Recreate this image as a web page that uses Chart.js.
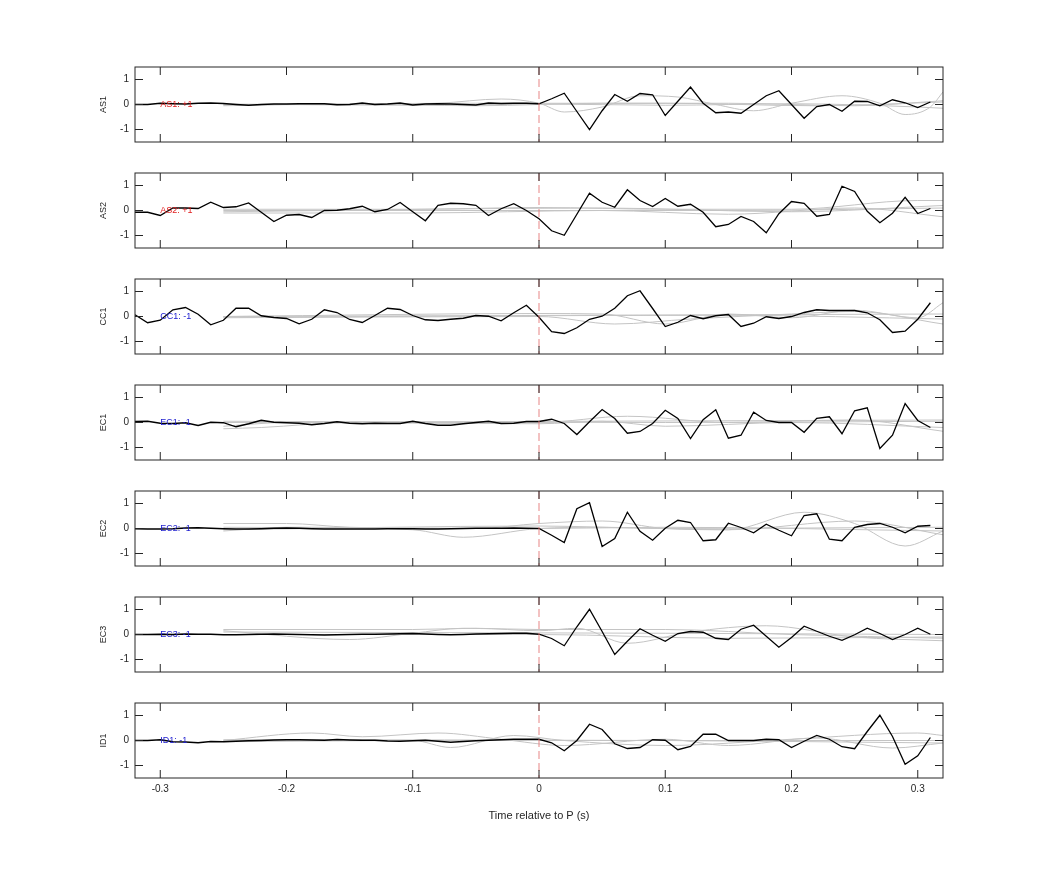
<!DOCTYPE html>
<html><head><meta charset="utf-8">
<script src="https://cdn.jsdelivr.net/npm/chart.js@4"></script>
<style>body{margin:0;background:#fff;width:1042px;height:875px;position:relative;overflow:hidden}canvas{position:absolute;left:0;top:0}</style>
</head><body>
<script>
const channels=['AS1','AS2','CC1','EC1','EC2','EC3','ID1'];
const labels=['AS1: +1','AS2: +1','CC1: -1','EC1: -1','EC2: -1','EC3: -1','ID1: -1'];
const labelColors=['#e02020','#e02020','#2020d0','#2020d0','#2020d0','#2020d0','#2020d0'];
const xTicks=[-0.3,-0.2,-0.1,0,0.1,0.2,0.3];
const yTicks=[-1,0,1];
const times=[];for(let i=-32;i<=31;i++)times.push(i/100);
const AS1=[0,0,0.05,0.03,0.02,0.05,0.06,0.04,0,-0.03,0,0.02,0.02,0.03,0.03,0.03,-0.01,0,0.06,0,0.02,0.06,-0.02,0.02,0.03,0.02,0,-0.02,0.06,0.04,0.05,0.05,
0.03,0.23,0.45,-0.28,-1.0,-0.25,0.4,0.13,0.44,0.39,-0.44,0.13,0.7,0.05,-0.33,-0.3,-0.35,0,0.35,0.55,0,-0.55,-0.08,0,-0.27,0.13,0.12,-0.05,0.19,0.07,-0.12,0.1];
const AS2=[-0.07,-0.07,-0.2,0.1,0.1,0.08,0.33,0.12,0.15,0.3,-0.07,-0.44,-0.19,-0.16,-0.28,0,0.01,0.07,0.17,-0.05,0.04,0.32,-0.05,-0.41,0.21,0.29,0.27,0.21,-0.2,0.07,0.27,0,
-0.33,-0.81,-0.99,-0.15,0.69,0.33,0.13,0.83,0.4,0.16,0.48,0.17,0.25,-0.07,-0.65,-0.56,-0.24,-0.44,-0.89,-0.13,0.36,0.29,-0.23,-0.16,0.97,0.76,-0.03,-0.49,-0.11,0.53,-0.12,0.08];
const CC1=[0.07,-0.25,-0.15,0.27,0.36,0.09,-0.33,-0.15,0.33,0.33,0.03,-0.04,-0.08,-0.29,-0.11,0.27,0.16,-0.12,-0.24,0.04,0.33,0.28,0.04,-0.13,-0.16,-0.11,-0.07,0.04,0.01,-0.17,0.15,0.45,
-0.03,-0.61,-0.68,-0.45,-0.11,0.01,0.33,0.83,1.03,0.32,-0.4,-0.23,0.04,-0.09,0.03,0.08,-0.4,-0.27,-0.01,-0.08,0,0.16,0.27,0.24,0.24,0.24,0.15,-0.13,-0.64,-0.59,-0.11,0.55];
const EC1=[0.04,0.05,-0.03,-0.04,-0.01,-0.12,0.01,-0.01,-0.17,-0.05,0.09,0.01,-0.01,-0.03,-0.09,-0.04,0.03,-0.03,-0.05,-0.03,-0.04,-0.04,0.05,-0.04,-0.11,-0.11,-0.05,0,0.05,-0.04,-0.03,0.04,
0.04,0.13,-0.04,-0.48,0.03,0.52,0.16,-0.43,-0.36,-0.04,0.49,0.16,-0.64,0.11,0.51,-0.63,-0.51,0.41,0.08,0,0,-0.39,0.17,0.23,-0.45,0.47,0.59,-1.04,-0.51,0.76,0.08,-0.2];
const EC2=[-0.01,-0.02,-0.02,-0.01,0.02,0.03,0.01,-0.01,-0.02,-0.02,-0.01,0.01,0.02,0.01,-0.01,-0.02,-0.02,-0.02,-0.02,-0.02,-0.01,-0.01,-0.01,-0.02,-0.02,-0.01,0,0.01,0.01,0.01,0.02,0.01,
0,-0.27,-0.56,0.79,1.03,-0.72,-0.4,0.65,-0.11,-0.47,0.01,0.33,0.24,-0.49,-0.45,0.21,0.04,-0.17,0.17,-0.07,-0.29,0.52,0.59,-0.43,-0.49,0.05,0.16,0.2,0.05,-0.17,0.09,0.12];
const EC3=[0,0,0.01,0,0.02,0.01,0.01,-0.01,-0.01,0,0.01,0.02,0.01,0,-0.01,-0.02,-0.01,0,0.01,0.01,0.02,0.03,0.04,0.02,0,-0.01,0,0.02,0.03,0.04,0.05,0.05,
0.01,-0.16,-0.45,0.31,1.01,0.12,-0.8,-0.27,0.23,-0.03,-0.27,0.04,0.12,0.09,-0.15,-0.2,0.21,0.37,-0.07,-0.51,-0.12,0.33,0.13,-0.07,-0.23,-0.01,0.25,0.04,-0.2,0,0.25,0.01];
const ID1=[0,0,0.03,-0.05,-0.06,-0.09,-0.04,-0.05,-0.03,-0.01,0,0.02,0.03,0.03,0.02,0.01,0.04,0.02,0.01,0.01,-0.02,-0.03,-0.01,0.01,-0.03,-0.07,-0.04,-0.01,0.01,0.03,0.05,0.05,
0.05,-0.09,-0.41,0,0.65,0.44,-0.13,-0.32,-0.28,0.03,0.01,-0.37,-0.24,0.25,0.25,0,0,0,0.05,0.03,-0.28,-0.03,0.2,0.05,-0.25,-0.33,0.36,1.01,0.16,-0.95,-0.61,0.12];
const black=[AS1,AS2,CC1,EC1,EC2,EC3,ID1];
const gray=[
[[[-0.25,0],[-0.15,0],[-0.08,0.05],[-0.03,0.22],[0,0.05],[0.02,-0.3],[0.05,-0.1],[0.08,0.35],[0.11,0.3],[0.14,0],[0.17,-0.25],[0.2,0.05],[0.24,0.35],[0.27,0.05],[0.29,-0.4],[0.31,-0.1],[0.32,0.5]],
 [[-0.25,-0.05],[-0.15,0.02],[-0.05,-0.05],[0.05,0.05],[0.15,0.05],[0.25,-0.05],[0.32,0.15]],
 [[-0.25,0.02],[-0.1,-0.03],[0,0.02],[0.1,-0.03],[0.2,0.03],[0.3,-0.1],[0.32,-0.15]],
 [[-0.25,-0.02],[-0.05,0.05],[0.1,0.05],[0.22,-0.05],[0.32,0.1]]],
[[[-0.25,0.05],[-0.1,0.05],[0,0.12],[0.1,0.05],[0.2,0.05],[0.3,0.4],[0.32,0.4]],
 [[-0.25,-0.1],[-0.1,-0.1],[0.05,0],[0.15,-0.15],[0.25,0.1],[0.32,-0.25]],
 [[-0.25,0],[0,0],[0.15,0],[0.32,0.1]],
 [[-0.25,-0.05],[0.05,0.1],[0.2,-0.05],[0.32,0.2]]],
[[[-0.25,0],[0,0.12],[0.05,0.1],[0.1,-0.3],[0.15,0.1],[0.2,-0.05],[0.25,0.25],[0.3,-0.05],[0.32,0.55]],
 [[-0.25,-0.05],[0,0],[0.06,-0.3],[0.12,-0.1],[0.2,0.1],[0.25,0.2],[0.32,-0.3]],
 [[-0.25,0],[0.32,0.1]],
 [[-0.25,-0.03],[0.15,0.05],[0.32,-0.1]]],
[[[-0.25,-0.25],[-0.22,-0.2],[-0.15,0],[0,0],[0.07,0.25],[0.15,0],[0.25,0.1],[0.32,-0.35]],
 [[-0.25,-0.15],[-0.2,0],[0,-0.05],[0.05,0.05],[0.1,-0.15],[0.2,0],[0.32,-0.2]],
 [[-0.25,0],[0.32,0.1]],
 [[-0.25,0.05],[0.1,0],[0.32,0.05]]],
[[[-0.25,0.2],[-0.2,0.2],[-0.15,0.05],[-0.05,0],[0,0.2],[0.05,0.3],[0.1,0],[0.15,-0.05],[0.21,0.65],[0.25,0.2],[0.29,-0.7],[0.32,-0.1]],
 [[-0.25,-0.1],[-0.2,0.05],[-0.1,-0.05],[-0.06,-0.35],[0,0],[0.05,0.05],[0.15,-0.05],[0.25,0.3],[0.32,-0.25]],
 [[-0.25,0.05],[0,0],[0.1,0.05],[0.32,-0.1]],
 [[-0.25,-0.05],[0,0.1],[0.1,0],[0.32,0.05]]],
[[[-0.25,0.2],[-0.1,0.2],[-0.05,0.25],[0,0.15],[0.03,0.25],[0.07,-0.35],[0.12,0.1],[0.18,0.35],[0.25,-0.1],[0.32,-0.25]],
 [[-0.25,0.15],[-0.15,-0.2],[-0.1,0.05],[-0.06,0.25],[0,0.2],[0.1,0.2],[0.2,0],[0.32,-0.15]],
 [[-0.25,0],[0,0],[0.15,-0.15],[0.32,-0.1]],
 [[-0.25,0.1],[0.1,0.05],[0.32,0]]],
[[[-0.25,0],[-0.18,0.3],[-0.14,0.15],[-0.08,0.3],[-0.03,0.05],[0.02,-0.2],[0.1,0.05],[0.15,-0.2],[0.22,0.1],[0.28,-0.3],[0.32,-0.1]],
 [[-0.25,-0.05],[-0.1,0],[-0.07,-0.28],[-0.02,0.2],[0.02,0],[0.1,-0.2],[0.2,0.05],[0.3,0.3],[0.32,0.2]],
 [[-0.25,0],[0.32,0]],
 [[-0.25,0.03],[0.1,0],[0.32,-0.1]]]
];
const FONT='"Liberation Sans", Arial, sans-serif';
const decor={id:'decor',
 afterDraw(c,a,o){
  const ctx=c.ctx,x=c.scales.x,y=c.scales.y,ca=c.chartArea;
  ctx.save();
  ctx.strokeStyle='rgba(228,120,120,0.9)';ctx.lineWidth=1;ctx.setLineDash([8,4]);
  const x0=x.getPixelForValue(0);
  ctx.beginPath();ctx.moveTo(x0,ca.top);ctx.lineTo(x0,ca.bottom);ctx.stroke();
  ctx.setLineDash([]);
  ctx.strokeStyle='#262626';ctx.lineWidth=1;
  ctx.strokeRect(ca.left,ca.top,ca.right-ca.left,ca.bottom-ca.top);
  ctx.beginPath();
  xTicks.forEach(v=>{const p=x.getPixelForValue(v);ctx.moveTo(p,ca.bottom);ctx.lineTo(p,ca.bottom-8);ctx.moveTo(p,ca.top);ctx.lineTo(p,ca.top+8);});
  yTicks.forEach(v=>{const p=y.getPixelForValue(v);ctx.moveTo(ca.left,p);ctx.lineTo(ca.left+8,p);ctx.moveTo(ca.right,p);ctx.lineTo(ca.right-8,p);});
  ctx.stroke();
  ctx.fillStyle=o.color;ctx.font='9px '+FONT;ctx.textBaseline='middle';ctx.textAlign='left';
  ctx.fillText(o.text,x.getPixelForValue(-0.3),y.getPixelForValue(0));
  ctx.restore();
 }};
channels.forEach((ch,i)=>{
 const cv=document.createElement('canvas');cv.width=1042;cv.height=875;cv.style.width='1042px';cv.style.height='875px';
 document.body.appendChild(cv);
 const last=i===channels.length-1;
 const top=67+106*i, bottom=top+75, hx=last?45:0;
 const ds=gray[i].map(g=>({data:g.map(p=>({x:p[0],y:p[1]})),borderColor:'#c4c4c4',borderWidth:1,pointRadius:0,tension:0.4,cubicInterpolationMode:'monotone',order:2}));
 ds.push({data:times.map((t,k)=>({x:t,y:black[i][k]})),borderColor:'#000',borderWidth:1.3,pointRadius:0,tension:0,order:1});
 new Chart(cv,{type:'line',data:{datasets:ds},
  options:{responsive:false,animation:false,devicePixelRatio:1,
   layout:{padding:{left:98,right:99,top:top,bottom:875-bottom-hx}},
   plugins:{legend:{display:false},tooltip:{enabled:false},decor:{text:labels[i],color:labelColors[i]}},
   scales:{
    x:{type:'linear',min:-0.32,max:0.32,
      afterBuildTicks:s=>{s.ticks=xTicks.map(v=>({value:v}));},
      afterFit:s=>{s.height=hx;},
      grid:{display:false,drawTicks:false},border:{display:false},
      ticks:{display:last,color:'#262626',font:{size:10,family:FONT},padding:5,maxRotation:0,callback:v=>String(Math.round(v*10)/10)},
      title:{display:last,text:'Time relative to P (s)',color:'#262626',font:{size:11,family:FONT},padding:{top:4,bottom:0}}},
    y:{type:'linear',min:-1.5,max:1.5,
      afterBuildTicks:s=>{s.ticks=yTicks.map(v=>({value:v}));},
      afterFit:s=>{s.width=37;},
      grid:{display:false,drawTicks:false},border:{display:false},
      ticks:{color:'#262626',font:{size:10,family:FONT},padding:6,callback:v=>String(v)},
      title:{display:true,text:ch,color:'#262626',font:{size:9,family:FONT},padding:0}}
   }},
  plugins:[decor]});
});
</script>
</body></html>
